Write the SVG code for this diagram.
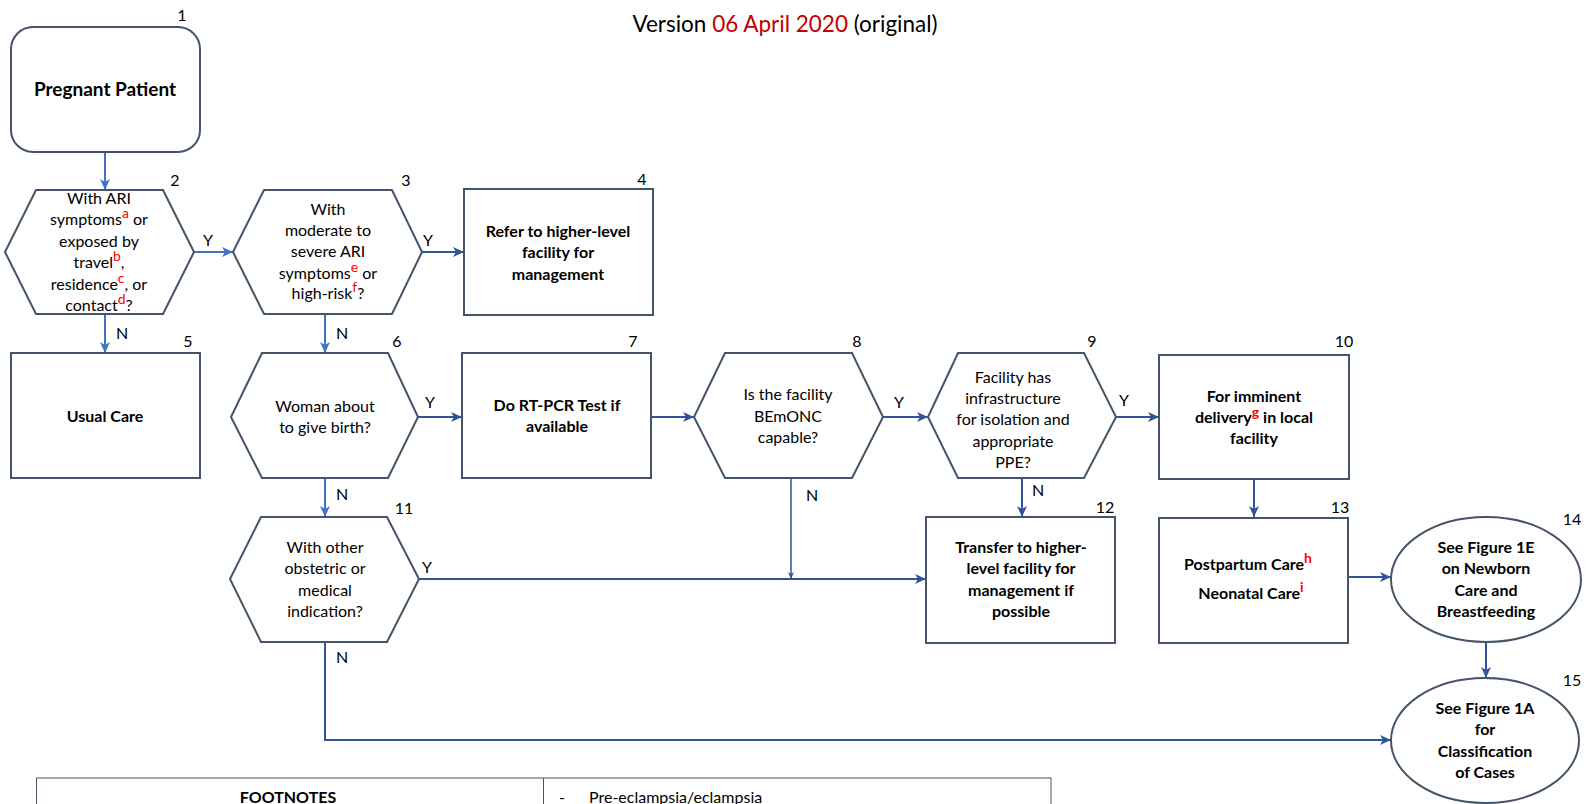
<svg xmlns="http://www.w3.org/2000/svg" width="1586" height="804" viewBox="0 0 1586 804">
<defs>
<style>
.shape{fill:#fff;stroke:#44546A;stroke-width:2}
.t{font-family:Lato,"Liberation Sans",sans-serif;font-size:16px;fill:#000;text-anchor:middle}
.b{font-weight:bold}
.big{font-size:19px}
.num{font-family:Lato,"Liberation Sans",sans-serif;font-size:16px;fill:#000;text-anchor:middle}
.lbl{font-family:Lato,"Liberation Sans",sans-serif;font-size:16px;fill:#000}
.sup{fill:#FF0000;font-size:14px}
.lt{fill:none;stroke:#4472C4;stroke-width:2;marker-end:url(#al)}
.dk{fill:none;stroke:#2F5597;stroke-width:2;marker-end:url(#ad)}
</style>
<marker id="al" markerUnits="userSpaceOnUse" markerWidth="12" markerHeight="12" refX="11" refY="6" orient="auto"><path d="M0,1 L11,6 L0,11 L3,6 z" fill="#4472C4"/></marker>
<marker id="ad" markerUnits="userSpaceOnUse" markerWidth="12" markerHeight="12" refX="11" refY="6" orient="auto"><path d="M0,1 L11,6 L0,11 L3,6 z" fill="#2F5597"/></marker>
<marker id="as" markerUnits="userSpaceOnUse" markerWidth="8" markerHeight="8" refX="7" refY="4" orient="auto"><path d="M0,1 L7,4 L0,7 L2,4 z" fill="#2F5597"/></marker>
</defs>
<rect width="1586" height="804" fill="#fff"/>

<text x="785" y="32" font-family="Lato,'Liberation Sans',sans-serif" font-size="22.5" text-anchor="middle" fill="#000">Version <tspan fill="#C00000">06 April 2020</tspan> (original)</text>

<g id="connectors">
<line class="lt" x1="105" y1="152" x2="105" y2="190"/>
<line class="lt" x1="194" y1="252" x2="233" y2="252"/>
<line class="lt" x1="105" y1="314" x2="105" y2="353"/>
<line class="dk" x1="422" y1="252" x2="464" y2="252"/>
<line class="lt" x1="325" y1="314" x2="325" y2="353"/>
<line class="dk" x1="418" y1="417" x2="462" y2="417"/>
<line class="dk" x1="651" y1="417" x2="694" y2="417"/>
<line class="dk" x1="883" y1="417" x2="928" y2="417"/>
<line class="dk" x1="1116" y1="417" x2="1159" y2="417"/>
<line class="lt" x1="325" y1="478" x2="325" y2="517"/>
<line x1="791" y1="478" x2="791" y2="579" fill="none" stroke="#2F5597" stroke-width="1.5" marker-end="url(#as)"/>
<line class="dk" x1="419" y1="579" x2="926" y2="579"/>
<line class="dk" x1="1022" y1="478" x2="1022" y2="517"/>
<line class="dk" x1="1254" y1="479" x2="1254" y2="517"/>
<line class="dk" x1="1348" y1="577" x2="1391" y2="577"/>
<line class="dk" x1="1486" y1="642" x2="1486" y2="678"/>
<polyline class="dk" points="325,642 325,740 1391,740"/>
<text class="lbl" x="203" y="246">Y</text>
<text class="lbl" x="116" y="339">N</text>
<text class="lbl" x="423" y="246">Y</text>
<text class="lbl" x="336" y="339">N</text>
<text class="lbl" x="425" y="408">Y</text>
<text class="lbl" x="894" y="408">Y</text>
<text class="lbl" x="1119" y="406">Y</text>
<text class="lbl" x="336" y="500">N</text>
<text class="lbl" x="806" y="501">N</text>
<text class="lbl" x="422" y="573">Y</text>
<text class="lbl" x="1032" y="496">N</text>
<text class="lbl" x="336" y="663">N</text>
</g>

<g id="n1">
<rect class="shape" x="11" y="27" width="189" height="125" rx="22"/>
<text class="t b big" x="105" y="96">Pregnant Patient</text>
<text class="num" x="182" y="21">1</text>
</g>

<g id="n2">
<polygon class="shape" points="36,190 163,190 194,252 163,314 36,314 5,252"/>
<text class="t" x="99" y="204">With ARI</text>
<text class="t" x="99" y="225">symptoms<tspan class="sup" dy="-7">a</tspan><tspan dy="7"> or</tspan></text>
<text class="t" x="99" y="247">exposed by</text>
<text class="t" x="99" y="268">travel<tspan class="sup" dy="-7">b</tspan><tspan dy="7">,</tspan></text>
<text class="t" x="99" y="290">residence<tspan class="sup" dy="-7">c</tspan><tspan dy="7">, or</tspan></text>
<text class="t" x="99" y="311">contact<tspan class="sup" dy="-7">d</tspan><tspan dy="7">?</tspan></text>
<text class="num" x="175" y="186">2</text>
</g>

<g id="n3">
<polygon class="shape" points="264,190 392,190 422,252 392,314 264,314 233,252"/>
<text class="t" x="328" y="215">With</text>
<text class="t" x="328" y="236">moderate to</text>
<text class="t" x="328" y="257">severe ARI</text>
<text class="t" x="328" y="279">symptoms<tspan class="sup" dy="-7">e</tspan><tspan dy="7"> or</tspan></text>
<text class="t" x="328" y="299">high-risk<tspan class="sup" dy="-7">f</tspan><tspan dy="7">?</tspan></text>
<text class="num" x="406" y="186">3</text>
</g>

<g id="n4">
<rect class="shape" x="464" y="189" width="189" height="126"/>
<text class="t b" x="558" y="237">Refer to higher-level</text>
<text class="t b" x="558" y="258">facility for</text>
<text class="t b" x="558" y="280">management</text>
<text class="num" x="642" y="185">4</text>
</g>

<g id="n5">
<rect class="shape" x="11" y="353" width="189" height="125"/>
<text class="t b" x="105" y="422">Usual Care</text>
<text class="num" x="188" y="347">5</text>
</g>

<g id="n6">
<polygon class="shape" points="262,353 388,353 418,417 388,478 262,478 231,417"/>
<text class="t" x="325" y="412">Woman about</text>
<text class="t" x="325" y="433">to give birth?</text>
<text class="num" x="397" y="347">6</text>
</g>

<g id="n7">
<rect class="shape" x="462" y="353" width="189" height="125"/>
<text class="t b" x="557" y="411">Do RT-PCR Test if</text>
<text class="t b" x="557" y="432">available</text>
<text class="num" x="633" y="347">7</text>
</g>

<g id="n8">
<polygon class="shape" points="725,353 852,353 883,417 852,478 725,478 694,417"/>
<text class="t" x="788" y="400">Is the facility</text>
<text class="t" x="788" y="422">BEmONC</text>
<text class="t" x="788" y="443">capable?</text>
<text class="num" x="857" y="347">8</text>
</g>

<g id="n9">
<polygon class="shape" points="958,353 1084,353 1116,417 1084,478 958,478 928,417"/>
<text class="t" x="1013" y="383">Facility has</text>
<text class="t" x="1013" y="404">infrastructure</text>
<text class="t" x="1013" y="425">for isolation and</text>
<text class="t" x="1013" y="447">appropriate</text>
<text class="t" x="1013" y="468">PPE?</text>
<text class="num" x="1092" y="347">9</text>
</g>

<g id="n10">
<rect class="shape" x="1159" y="355" width="190" height="124"/>
<text class="t b" x="1254" y="402">For imminent</text>
<text class="t b" x="1254" y="423">delivery<tspan class="sup" dy="-6">g</tspan><tspan dy="6"> in local</tspan></text>
<text class="t b" x="1254" y="444">facility</text>
<text class="num" x="1344" y="347">10</text>
</g>

<g id="n11">
<polygon class="shape" points="261,517 387,517 419,579 387,642 261,642 230,579"/>
<text class="t" x="325" y="553">With other</text>
<text class="t" x="325" y="574">obstetric or</text>
<text class="t" x="325" y="596">medical</text>
<text class="t" x="325" y="617">indication?</text>
<text class="num" x="404" y="514">11</text>
</g>

<g id="n12">
<rect class="shape" x="926" y="517" width="189" height="126"/>
<text class="t b" x="1021" y="553">Transfer to higher-</text>
<text class="t b" x="1021" y="574">level facility for</text>
<text class="t b" x="1021" y="596">management if</text>
<text class="t b" x="1021" y="617">possible</text>
<text class="num" x="1105" y="513">12</text>
</g>

<g id="n13">
<rect class="shape" x="1159" y="518" width="189" height="125"/>
<text class="t b" x="1248" y="570">Postpartum Care<tspan class="sup" dy="-7">h</tspan><tspan dy="7"></tspan></text>
<text class="t b" x="1251" y="599">Neonatal Care<tspan class="sup" dy="-7">i</tspan><tspan dy="7"></tspan></text>
<text class="num" x="1340" y="513">13</text>
</g>

<g id="n14">
<ellipse class="shape" cx="1486" cy="579.5" rx="95" ry="62.5"/>
<text class="t b" x="1486" y="553">See Figure 1E</text>
<text class="t b" x="1486" y="574">on Newborn</text>
<text class="t b" x="1486" y="596">Care and</text>
<text class="t b" x="1486" y="617">Breastfeeding</text>
<text class="num" x="1572" y="525">14</text>
</g>

<g id="n15">
<ellipse class="shape" cx="1485" cy="740.5" rx="94" ry="62.5"/>
<text class="t b" x="1485" y="714">See Figure 1A</text>
<text class="t b" x="1485" y="735">for</text>
<text class="t b" x="1485" y="757">Classification</text>
<text class="t b" x="1485" y="778">of Cases</text>
<text class="num" x="1572" y="686">15</text>
</g>

<g id="footnotes">
<rect x="36.5" y="778" width="1014.5" height="40" fill="none" stroke="#44546A" stroke-width="1"/>
<line x1="543.5" y1="778" x2="543.5" y2="818" stroke="#44546A" stroke-width="1"/>
<text class="t b" x="288" y="803">FOOTNOTES</text>
<text class="lbl" x="559" y="803">-</text>
<text class="lbl" x="589" y="803">Pre-eclampsia/eclampsia</text>
</g>
</svg>
